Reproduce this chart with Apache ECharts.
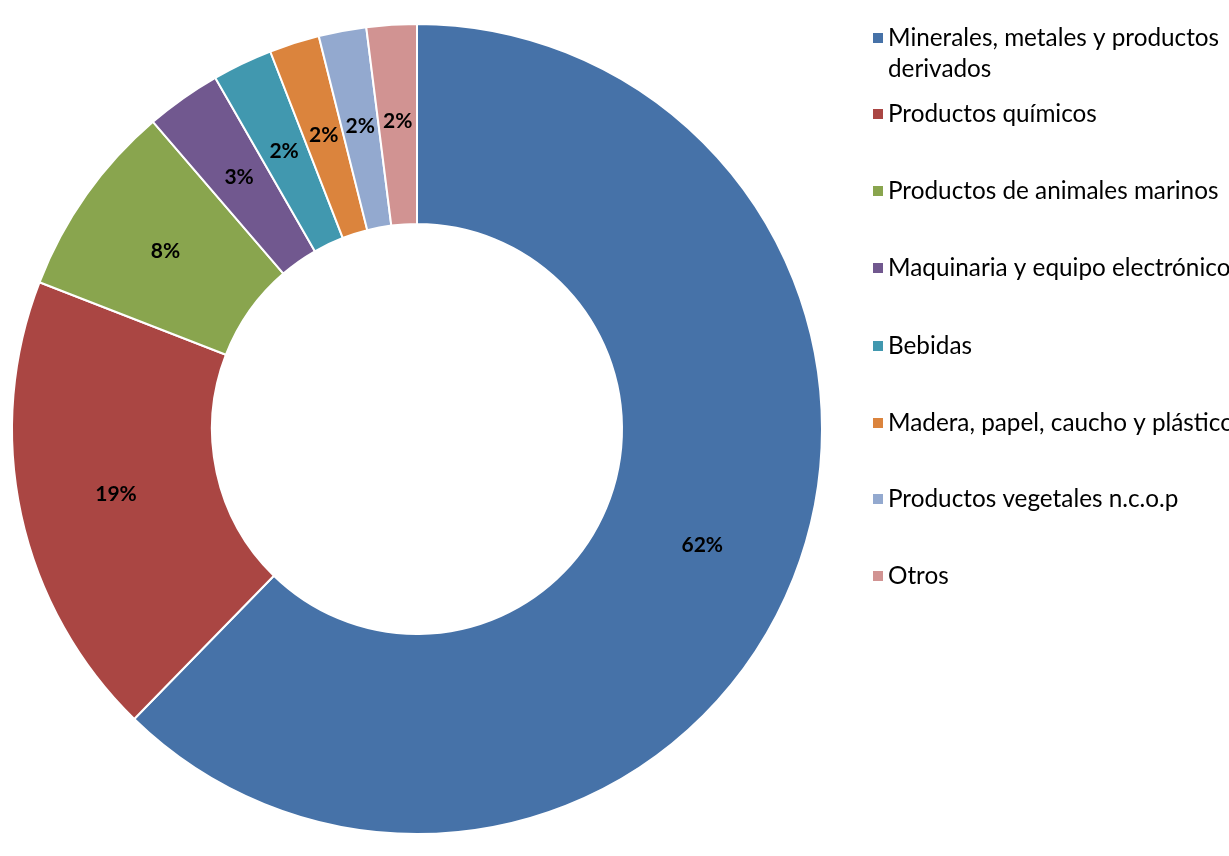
<!DOCTYPE html>
<html>
<head>
<meta charset="utf-8">
<script src="https://cdn.jsdelivr.net/npm/echarts@6/dist/echarts.min.js"></script>
<style>html,body{margin:0;padding:0;background:#fff;}#c{width:1229px;height:856px;}</style>
</head>
<body>
<div id="c"></div>
<script>
const categories = [
  'Minerales, metales y productos derivados',
  'Productos químicos',
  'Productos de animales marinos',
  'Maquinaria y equipo electrónico',
  'Bebidas',
  'Madera, papel, caucho y plástico',
  'Productos vegetales n.c.o.p',
  'Otros'
];
const values = [62.3, 18.6, 7.8, 3.0, 2.4, 2.0, 1.9, 2.0];
const colors = ['#4672A8', '#AA4643', '#89A54E', '#71588F', '#4198AF', '#DB843D', '#93A9CF', '#D19392'];
const legendY = [38, 114, 191, 268, 346, 423, 499, 576];

const chart = echarts.init(document.getElementById('c'));
const FONT = 'Lato';
const LH = 31;
const legends = categories.map((name, i) => {
  const multi = i === 0;
  const h = multi ? LH * 3 : LH;
  return {
    orient: 'vertical',
    left: 873,
    top: legendY[i] - h / 2,
    padding: 0,
    icon: 'rect',
    itemWidth: 10,
    itemHeight: 10,
    itemStyle: { borderWidth: 0 },
    selectedMode: false,
    data: [name],
    formatter: n => n === categories[0] ? '\u00a0\nMinerales, metales y productos\nderivados' : n,
    textStyle: {
      fontFamily: FONT,
      fontSize: 24.3,
      color: '#000',
      lineHeight: LH
    }
  };
});

chart.setOption({
  animation: false,
  color: colors,
  legend: legends,
  series: [{
    type: 'pie',
    center: [417, 429],
    radius: [205, 405],
    startAngle: 90,
    clockwise: true,
    percentPrecision: 0,
    itemStyle: { borderColor: '#fff', borderWidth: 2 },
    label: {
      show: true,
      position: 'inside',
      formatter: '{d}%',
      color: '#000',
      fontFamily: FONT,
      fontWeight: 'bold',
      fontSize: 21
    },
    labelLine: { show: false },
    emphasis: { disabled: true },
    data: categories.map((n, i) => ({ name: n, value: values[i] }))
  }]
});
</script>
</body>
</html>
